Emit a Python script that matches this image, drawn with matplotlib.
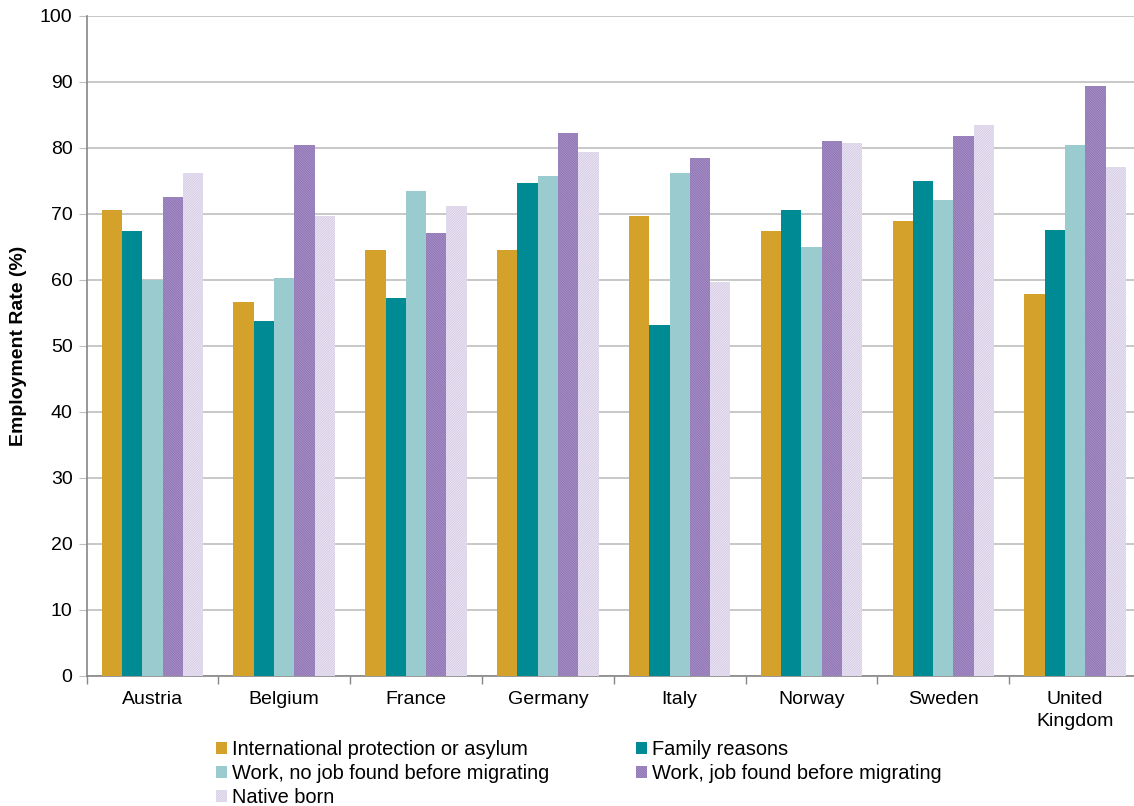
import matplotlib
matplotlib.use("Agg")
import matplotlib.pyplot as plt
import numpy as np

plt.rcParams['font.family'] = ['Liberation Sans', 'DejaVu Sans']
plt.rcParams['hatch.linewidth'] = 1.0

# Data
countries = ['Austria', 'Belgium', 'France', 'Germany', 'Italy', 'Norway', 'Sweden', 'United\nKingdom']
asylum = [70.5, 56.6, 64.5, 64.5, 69.7, 67.3, 68.9, 57.8]
family = [67.3, 53.7, 57.3, 74.6, 53.2, 70.6, 75.0, 67.5]
work_no_job = [59.9, 60.3, 73.5, 75.7, 76.2, 64.9, 72.1, 80.4]
work_job = [72.5, 80.4, 67.0, 82.2, 78.5, 81.0, 81.7, 89.3]
native = [76.2, 69.7, 71.1, 79.4, 59.7, 80.7, 83.4, 77.0]

series = [
    ('International protection or asylum', asylum, '#D4A12A', None, '#D4A12A'),
    ('Family reasons', family, '#008A94', None, '#008A94'),
    ('Work, no job found before migrating', work_no_job, '#9ACBCE', None, '#9ACBCE'),
    ('Work, job found before migrating', work_job, '#6E4C9C', '\\' * 14, '#A48DC4'),
    ('Native born', native, '#BBABD3', '/' * 14, '#E8E2F1'),
]

fig = plt.figure(figsize=(11.34, 8.06), dpi=100)
ax = fig.add_axes([86.5 / 1134, 1 - 676 / 806, (1141 - 86.5) / 1134, (676 - 15.5) / 806])

x = np.arange(len(countries))
width = 0.154
handles = []
for i, (label, vals, color, hatch, hcolor) in enumerate(series):
    offs = (i - 2) * width
    b = ax.bar(x + offs, vals, width, color=color, hatch=hatch, edgecolor=hcolor,
               linewidth=0, label=label, zorder=3)
    handles.append(b)

ax.set_xlim(-0.5, len(countries) - 0.5)
ax.set_ylim(0, 100)
ax.set_yticks(np.arange(0, 101, 10))
ax.yaxis.grid(True, color='#BFBFBF', linewidth=1.2, zorder=0)
ax.tick_params(axis='y', length=6, color='#BFBFBF', labelsize=14, pad=4)

ax.set_xticks(x)
ax.set_xticklabels(countries, fontsize=14, linespacing=1.4)
ax.set_xticks(np.arange(-0.5, len(countries), 1), minor=True)
ax.tick_params(axis='x', which='major', length=0, pad=11)
ax.tick_params(axis='x', which='minor', length=6, color='#868686', width=1)

for s in ['top', 'right']:
    ax.spines[s].set_visible(False)
for s in ['left', 'bottom']:
    ax.spines[s].set_color('#868686')
    ax.spines[s].set_linewidth(1.2)

ax.set_ylabel('Employment Rate (%)', fontsize=14, fontweight='bold', labelpad=9)

order = [0, 2, 4, 1, 3]
fig.legend([handles[k] for k in order], [series[k][0] for k in order],
           loc='upper left', bbox_to_anchor=(216 / 1134, 1 - 740 / 806), ncol=2,
           frameon=False, fontsize=14.4, handlelength=0.55, handleheight=0.55,
           handletextpad=0.25, labelspacing=0.26, columnspacing=4.35, borderpad=0,
           borderaxespad=0)

fig.savefig('out.png', dpi=100)
